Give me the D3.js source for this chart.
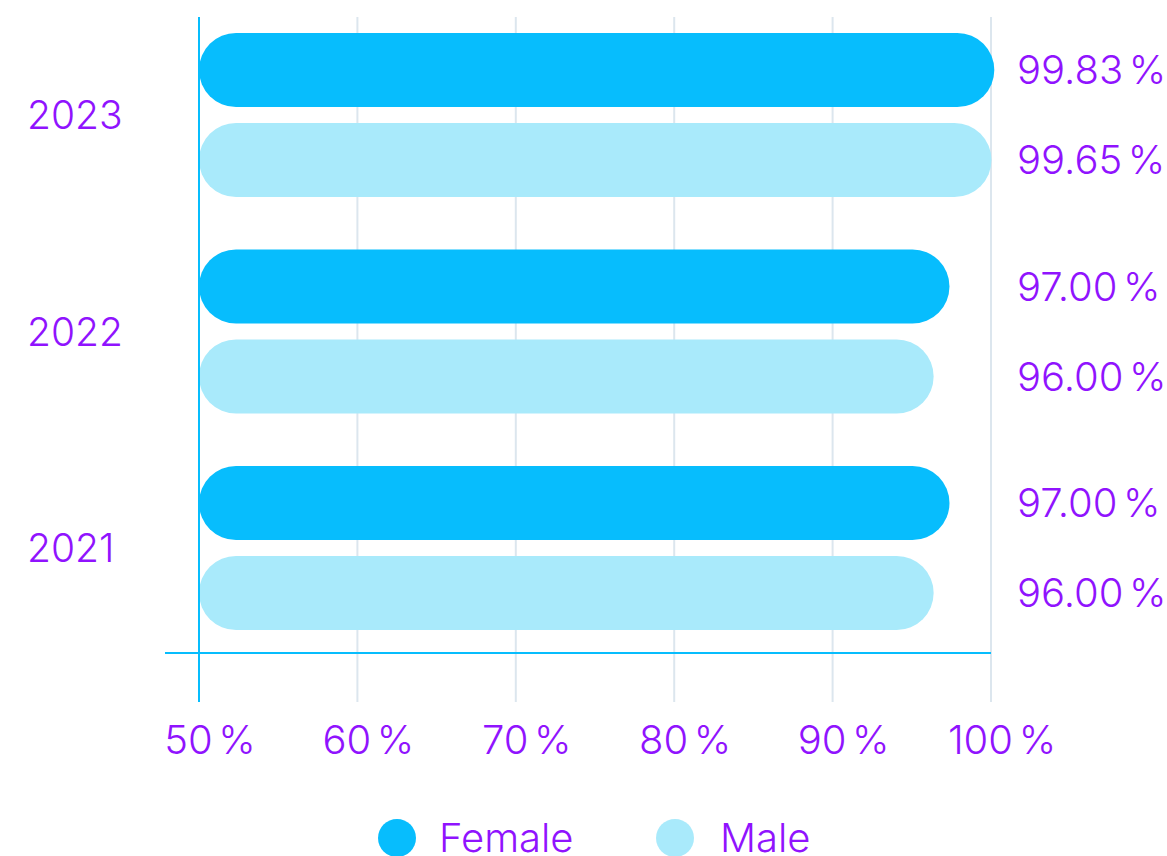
<!DOCTYPE html>
<html>
<head>
<meta charset="utf-8">
<script src="https://cdn.jsdelivr.net/npm/d3@7"></script>
<style>
  html, body { margin: 0; padding: 0; background: #ffffff; }
  svg { display: block; }
  text { font-family: Inter, "Noto Sans", sans-serif; font-weight: 300; fill: #9013FE; }
</style>
</head>
<body>
<svg id="chart" width="1167" height="856"></svg>
<script>
// Literacy rate by year and sex
const years = ["2023", "2022", "2021"];
const seriesNames = ["Female", "Male"];
const femaleValues = [99.83, 97.00, 97.00];
const maleValues = [99.65, 96.00, 96.00];
const tickValues = [50, 60, 70, 80, 90, 100];
const tickLabels = ["50", "60", "70", "80", "90", "100"];

const colors = { Female: "#07BDFD", Male: "#A9EAFB" };

const svg = d3.select("#chart");

const x = d3.scaleLinear().domain([50, 100]).range([199, 991]);

const y = d3.scaleBand()
  .domain(years)
  .range([6.75, 656.25])
  .paddingInner(0.2425)
  .paddingOuter(0.1212);

const ySub = d3.scaleBand()
  .domain(seriesNames)
  .range([0, y.bandwidth()])
  .paddingInner(16 / 90)
  .paddingOuter(0);

const rows = years.map((yr, i) => ({
  year: yr,
  values: [
    { name: "Female", value: femaleValues[i] },
    { name: "Male", value: maleValues[i] }
  ]
}));

// Number followed by a slightly spaced percent sign
function percentText(sel, numFn) {
  sel.each(function (d, i) {
    const t = d3.select(this);
    t.append("tspan").text(numFn(d, i));
    t.append("tspan").attr("dx", "0.14em").text("%");
  });
}

// Gridlines
const gridTop = 17, gridBottom = 702;
svg.append("g")
  .selectAll("line")
  .data(tickValues.slice(1))
  .join("line")
  .attr("x1", d => x(d)).attr("x2", d => x(d))
  .attr("y1", gridTop).attr("y2", gridBottom)
  .attr("stroke", "#DCE6EE")
  .attr("stroke-width", 2);

// Bars (pill shaped, slightly overshooting the value position)
const barPad = 6;
const groups = svg.append("g")
  .selectAll("g")
  .data(rows)
  .join("g")
  .attr("transform", d => `translate(0,${y(d.year)})`);

groups.selectAll("rect")
  .data(d => d.values)
  .join("rect")
  .attr("x", x(50))
  .attr("y", d => ySub(d.name))
  .attr("width", d => x(d.value) - x(50) + barPad)
  .attr("height", ySub.bandwidth())
  .attr("rx", ySub.bandwidth() / 2)
  .attr("ry", ySub.bandwidth() / 2)
  .attr("fill", d => colors[d.name]);

// Value labels
groups.selectAll("text.value")
  .data(d => d.values)
  .join("text")
  .attr("class", "value")
  .attr("x", 1017)
  .attr("y", d => ySub(d.name) + ySub.bandwidth() / 2)
  .attr("dy", "0.36em")
  .attr("font-size", 40)
  .call(percentText, d => d.value.toFixed(2));

// Year labels
svg.append("g")
  .selectAll("text")
  .data(years)
  .join("text")
  .attr("x", 27)
  .attr("y", d => y(d) + y.bandwidth() / 2)
  .attr("dy", "0.36em")
  .attr("font-size", 39)
  .text(d => d);

// Axis lines
svg.append("line")
  .attr("x1", x(50)).attr("x2", x(50))
  .attr("y1", gridTop).attr("y2", gridBottom)
  .attr("stroke", "#07BDFD").attr("stroke-width", 2);

svg.append("line")
  .attr("x1", 165).attr("x2", x(100))
  .attr("y1", 653).attr("y2", 653)
  .attr("stroke", "#07BDFD").attr("stroke-width", 2);

// X tick labels
svg.append("g")
  .selectAll("text")
  .data(tickValues)
  .join("text")
  .attr("x", d => x(d) + 11)
  .attr("y", 754)
  .attr("text-anchor", "middle")
  .attr("font-size", 40)
  .call(percentText, (d, i) => tickLabels[i]);

// Legend
const legend = svg.append("g");
const legendItems = [
  { name: "Female", cx: 397, tx: 439 },
  { name: "Male", cx: 675, tx: 720 }
];
legend.selectAll("circle")
  .data(legendItems)
  .join("circle")
  .attr("cx", d => d.cx)
  .attr("cy", 838)
  .attr("r", 19)
  .attr("fill", d => colors[d.name]);
legend.selectAll("text")
  .data(legendItems)
  .join("text")
  .attr("x", d => d.tx)
  .attr("y", 852)
  .attr("font-size", 40)
  .text(d => d.name);
</script>
</body>
</html>
